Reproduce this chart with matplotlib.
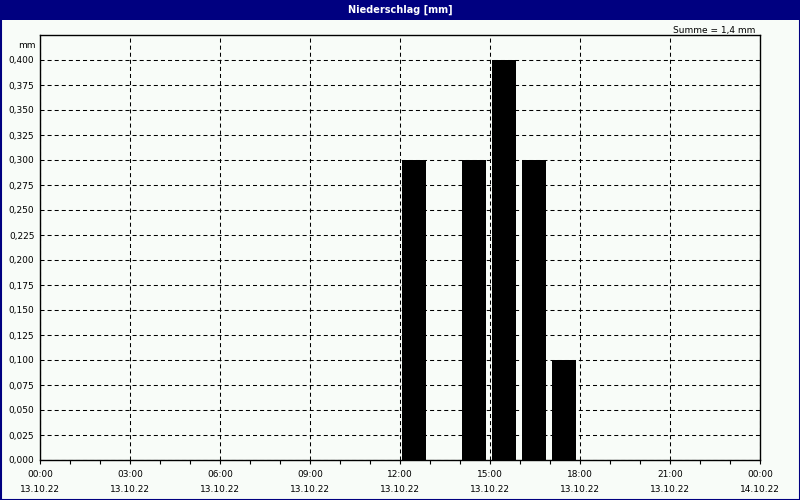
import matplotlib
matplotlib.use("Agg")
import matplotlib.pyplot as plt
from matplotlib.patches import Rectangle

# Data
bar_hours = [12, 14, 15, 16, 17]          # start hour of each hourly sum on 13.10.22
precip_mm = [0.300, 0.300, 0.400, 0.300, 0.100]
x_tick_hours = [0, 3, 6, 9, 12, 15, 18, 21, 24]
x_tick_labels = ["00:00\n13.10.22", "03:00\n13.10.22", "06:00\n13.10.22", "09:00\n13.10.22",
                 "12:00\n13.10.22", "15:00\n13.10.22", "18:00\n13.10.22", "21:00\n13.10.22",
                 "00:00\n14.10.22"]
y_ticks = [i * 0.025 for i in range(17)]
y_tick_labels = [f"{v:.3f}".replace(".", ",") for v in y_ticks]
title = "Niederschlag [mm]"
summe_text = "Summe = 1,4 mm"

plt.rcParams["font.family"] = ["DejaVu Sans"]
plt.rcParams["lines.scale_dashes"] = False

bg = "#F8FCF8"
navy = "#000080"
fig = plt.figure(figsize=(8, 5), dpi=100, facecolor=bg)

# window title bar and border
fig.patches.append(Rectangle((0, 1 - 20 / 500), 1, 20 / 500, transform=fig.transFigure,
                             facecolor=navy, edgecolor="none", zorder=0))
fig.patches.append(Rectangle((0.5 / 800, 0.5 / 500), 1 - 1 / 800, 1 - 1 / 500, transform=fig.transFigure,
                             facecolor="none", edgecolor=navy, linewidth=1.5, zorder=5))
fig.text(0.5, 1 - 10 / 500, title, color="white", fontsize=7, fontweight="bold",
         ha="center", va="center")

ax = fig.add_axes([40 / 800, 40 / 500, 720 / 800, 425 / 500])
ax.set_facecolor(bg)

ax.bar([h + 0.067 for h in bar_hours], precip_mm, width=0.8, align="edge",
       color="black", edgecolor="black", linewidth=0, zorder=3)

ax.set_xlim(0, 24)
ax.set_ylim(0, 0.425)
ax.set_xticks(x_tick_hours)
ax.set_xticklabels(x_tick_labels, fontsize=6.5, linespacing=1.85)
ax.set_xticks(range(25), minor=True)
ax.set_yticks(y_ticks)
ax.set_yticklabels(y_tick_labels, fontsize=6.5)
ax.tick_params(axis="y", length=0, pad=4)
ax.tick_params(axis="x", which="both", direction="out", length=3, width=0.8, pad=4.5)

ax.grid(True, which="major", color="black", linestyle=(0, (2.9, 2.2)), linewidth=0.75, zorder=1)
ax.set_axisbelow(True)
for s in ax.spines.values():
    s.set_linewidth(1.0)
    s.set_color("black")

fig.text(36 / 800, 1 - 45 / 500, "mm", fontsize=6.5, ha="right", va="center")
fig.text(755 / 800, 1 - 30 / 500, summe_text, fontsize=6.5, ha="right", va="center")

fig.savefig("out.png", dpi=100, facecolor=bg)
